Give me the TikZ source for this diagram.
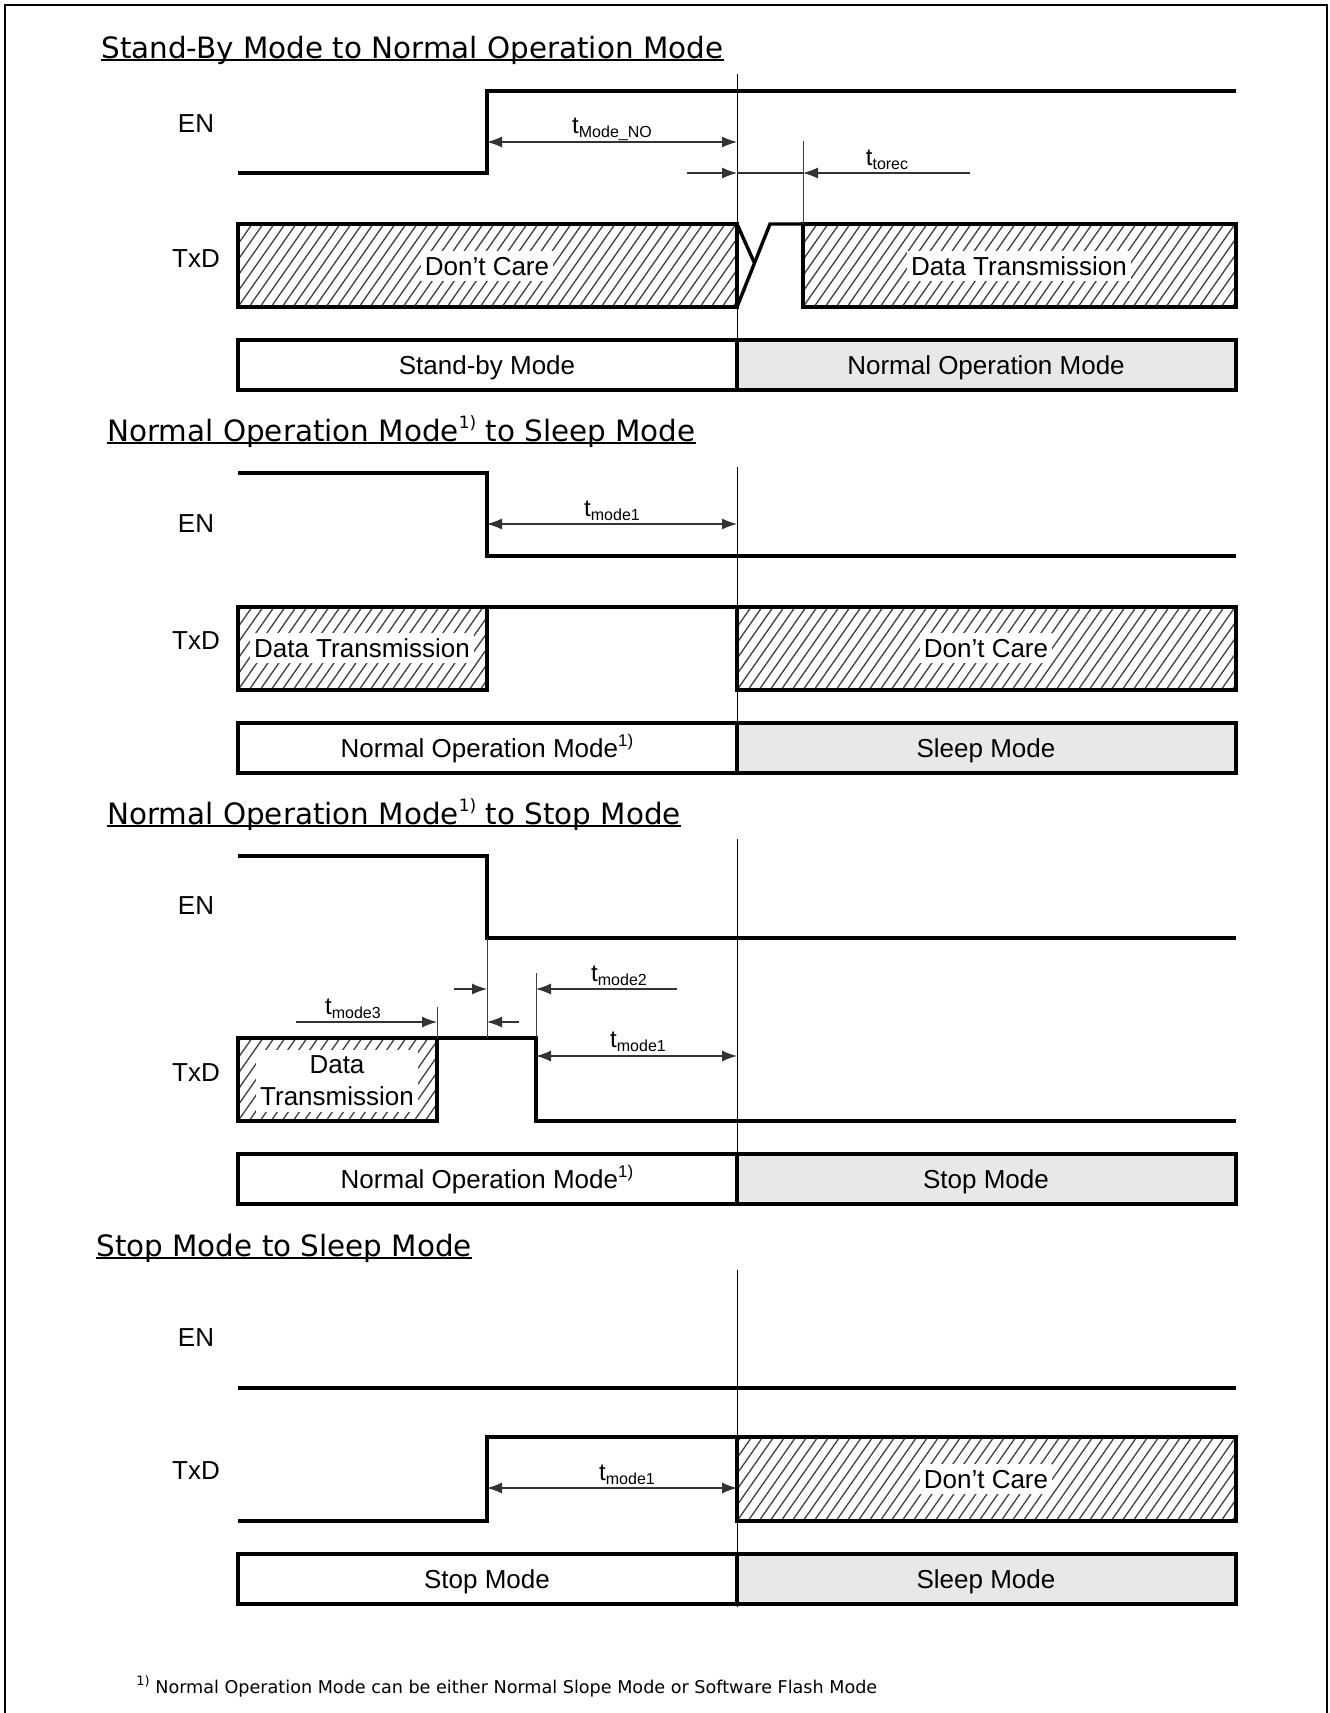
\documentclass[tikz,border=0pt]{standalone}
\usepackage{fontspec}
\setmainfont{Liberation Sans}
\newfontfamily\policetitre{DejaVu Sans}
\usetikzlibrary{arrows.meta}
\definecolor{grisclair}{gray}{0.91}
\newcommand{\tdelai}[1]{{\fontsize{12}{14}\selectfont t}\raisebox{-0.4ex}{\fontsize{8}{9}\selectfont #1}}
\newcommand{\renvoi}{\raisebox{0.8ex}{\fontsize{8.5}{9}\selectfont 1)}}
\newcommand{\hachures}[4]{%
	\begin{scope}
		\clip (#1,#2) rectangle (#3,#4);
		\foreach \i in {-8,...,48}
		\draw[hachure] ({#1+11*\i},#4) -- ({#1+11*\i+0.7*(#4-#2)},#2);
	\end{scope}}
\begin{document}
\begin{tikzpicture}[x=0.5pt,y=-0.5pt]
		% Styles
		\tikzstyle{signal}=[line width=1.7pt,line join=miter]
		\tikzstyle{boite}=[line width=1.6pt]
		\tikzstyle{repere}=[line width=0.5pt]
		\tikzstyle{cote}=[line width=0.55pt,black!80,>={Latex[length=7.5pt,width=5.5pt]}]
		\tikzstyle{hachure}=[line width=0.65pt,black!75]
		\tikzstyle{souligne}=[line width=0.75pt]
		\tikzstyle{etiquette}=[font=\fontsize{13}{15}\selectfont,text height=9.3pt,text depth=0pt,inner sep=0pt]
		\tikzstyle{masque}=[etiquette,fill=white,inner xsep=2pt,inner ysep=3pt]
		\tikzstyle{titre}=[font=\policetitre\fontsize{14.7}{17}\selectfont,anchor=base west,inner sep=0pt]
		\tikzstyle{delai}=[anchor=base,inner sep=0pt]
		% Abscisses
		\def\XDebut{238}
		\def\XFront{487}
		\def\XRef{737}
		\def\XFin{1236}
		%
		\useasboundingbox (0,0) rectangle (1329,1713);
		\draw[line width=0.75pt] (5,1713) -- (5,5) -- (1327,5) -- (1327,1713);
		%
		% 1) Stand-By -> Normal
		\node[titre] (titreA) at (101,58) {Stand-By Mode to Normal Operation Mode};
		\draw[souligne] ([yshift=-1pt]titreA.base west) -- ([yshift=-1pt]titreA.base east);
		\node[etiquette] (enA) at (196,123) {EN};
		\node[etiquette] (txdA) at (196,258) {TxD};
		\draw[repere] (\XRef,74) -- (\XRef,390);
		\draw[signal] (\XDebut,173) -- (\XFront,173) -- (\XFront,91) -- (\XFin,91);
		\hachures{\XDebut}{224}{\XRef}{307}
		\node[masque] (dcA) at (487,266) {Don’t Care};
		\draw[boite] (\XDebut,224) rectangle (\XRef,307);
		\draw[signal] (\XRef,224) -- (754,262);
		\draw[signal] (\XRef,307) -- (770,224) -- (803,224);
		\hachures{803}{224}{\XFin}{307}
		\node[masque] (dtA) at (1019,266) {Data Transmission};
		\draw[boite] (803,224) rectangle (\XFin,307);
		\draw[boite] (\XDebut,340) rectangle (\XRef,390);
		\draw[boite,fill=grisclair] (\XRef,340) rectangle (\XFin,390);
		\node[etiquette] (modeA1) at (487,365) {Stand-by Mode};
		\node[etiquette] (modeA2) at (986,365) {Normal Operation Mode};
		\draw[cote,<->] (\XFront,142) -- (\XRef,142);
		\node[delai] (tA1) at (612,133) {\tdelai{Mode\_NO}};
		\draw[repere,black!75] (803,141) -- (803,224);
		\draw[cote,->] (687,173) -- (\XRef,173);
		\draw[cote] (\XRef,173) -- (803,173);
		\draw[cote,->] (970,173) -- (803,173);
		\node[delai] (tA2) at (887,165) {\tdelai{torec}};
		%
		% 2) Normal -> Sleep
		\node[titre] (titreB) at (107,441) {Normal Operation Mode\renvoi{} to Sleep Mode};
		\draw[souligne] ([yshift=-1pt]titreB.base west) -- ([yshift=-1pt]titreB.base east);
		\node[etiquette] (enB) at (196,523) {EN};
		\node[etiquette] (txdB) at (196,640) {TxD};
		\draw[repere] (\XRef,467) -- (\XRef,773);
		\draw[signal] (\XDebut,473) -- (\XFront,473) -- (\XFront,556) -- (\XFin,556);
		\hachures{\XDebut}{607}{\XFront}{690}
		\node[masque] (dtB) at (362,648) {Data Transmission};
		\draw[boite] (\XDebut,607) rectangle (\XFront,690);
		\draw[signal] (\XFront,607) -- (\XRef,607);
		\hachures{\XRef}{607}{\XFin}{690}
		\node[masque] (dcB) at (986,648) {Don’t Care};
		\draw[boite] (\XRef,607) rectangle (\XFin,690);
		\draw[boite] (\XDebut,723) rectangle (\XRef,773);
		\draw[boite,fill=grisclair] (\XRef,723) rectangle (\XFin,773);
		\node[etiquette] (modeB1) at (487,748) {Normal Operation Mode\renvoi};
		\node[etiquette] (modeB2) at (986,748) {Sleep Mode};
		\draw[cote,<->] (\XFront,524) -- (\XRef,524);
		\node[delai] (tB1) at (612,516) {\tdelai{mode1}};
		%
		% 3) Normal -> Stop
		\node[titre] (titreC) at (107,824) {Normal Operation Mode\renvoi{} to Stop Mode};
		\draw[souligne] ([yshift=-1pt]titreC.base west) -- ([yshift=-1pt]titreC.base east);
		\node[etiquette] (enC) at (196,905) {EN};
		\node[etiquette] (txdC) at (196,1072) {TxD};
		\draw[repere] (\XRef,839) -- (\XRef,1204);
		\draw[signal] (\XDebut,856) -- (\XFront,856) -- (\XFront,938) -- (\XFin,938);
		\hachures{\XDebut}{1038}{437}{1121}
		\node[masque,text height=,text depth=,align=center,font=\fontsize{13}{16}\selectfont] (dtC) at (337,1081) {Data\\Transmission};
		\draw[boite] (\XDebut,1038) rectangle (437,1121);
		\draw[signal] (437,1038) -- (536,1038) -- (536,1121) -- (\XFin,1121);
		\draw[boite] (\XDebut,1154) rectangle (\XRef,1204);
		\draw[boite,fill=grisclair] (\XRef,1154) rectangle (\XFin,1204);
		\node[etiquette] (modeC1) at (487,1179) {Normal Operation Mode\renvoi};
		\node[etiquette] (modeC2) at (986,1179) {Stop Mode};
		\draw[repere,black!75] (\XFront,938) -- (\XFront,1038);
		\draw[repere,black!75] (437,1007) -- (437,1038);
		\draw[repere,black!75] (536,973) -- (536,1038);
		\draw[cote,->] (296,1022) -- (437,1022);
		\node[delai] (tC3) at (353,1014) {\tdelai{mode3}};
		\draw[cote,->] (454,989) -- (\XFront,989);
		\draw[cote,->] (519,1022) -- (\XFront,1022);
		\draw[cote,->] (677,989) -- (536,989);
		\node[delai] (tC2) at (619,981) {\tdelai{mode2}};
		\draw[cote,<->] (536,1056) -- (\XRef,1056);
		\node[delai] (tC1) at (638,1047) {\tdelai{mode1}};
		%
		% 4) Stop -> Sleep
		\node[titre] (titreD) at (96,1256) {Stop Mode to Sleep Mode};
		\draw[souligne] ([yshift=-1pt]titreD.base west) -- ([yshift=-1pt]titreD.base east);
		\node[etiquette] (enD) at (196,1337) {EN};
		\node[etiquette] (txdD) at (196,1470) {TxD};
		\draw[repere] (\XRef,1270) -- (\XRef,1607);
		\draw[signal] (\XDebut,1388) -- (\XFin,1388);
		\draw[signal] (\XDebut,1521) -- (\XFront,1521) -- (\XFront,1437) -- (\XRef,1437);
		\hachures{\XRef}{1437}{\XFin}{1521}
		\node[masque] (dcD) at (986,1479) {Don’t Care};
		\draw[boite] (\XRef,1437) rectangle (\XFin,1521);
		\draw[boite] (\XDebut,1554) rectangle (\XRef,1604);
		\draw[boite,fill=grisclair] (\XRef,1554) rectangle (\XFin,1604);
		\node[etiquette] (modeD1) at (487,1579) {Stop Mode};
		\node[etiquette] (modeD2) at (986,1579) {Sleep Mode};
		\draw[cote,<->] (\XFront,1488) -- (\XRef,1488);
		\node[delai] (tD1) at (627,1480) {\tdelai{mode1}};
		%
		% Note
		\node[anchor=base west,inner sep=0pt,font=\policetitre\fontsize{8.8}{11}\selectfont] (note) at (136,1693) {\raisebox{0.8ex}{\fontsize{6.5}{7}\selectfont 1)} Normal Operation Mode can be either Normal Slope Mode or Software Flash Mode};
\end{tikzpicture}
\end{document}
